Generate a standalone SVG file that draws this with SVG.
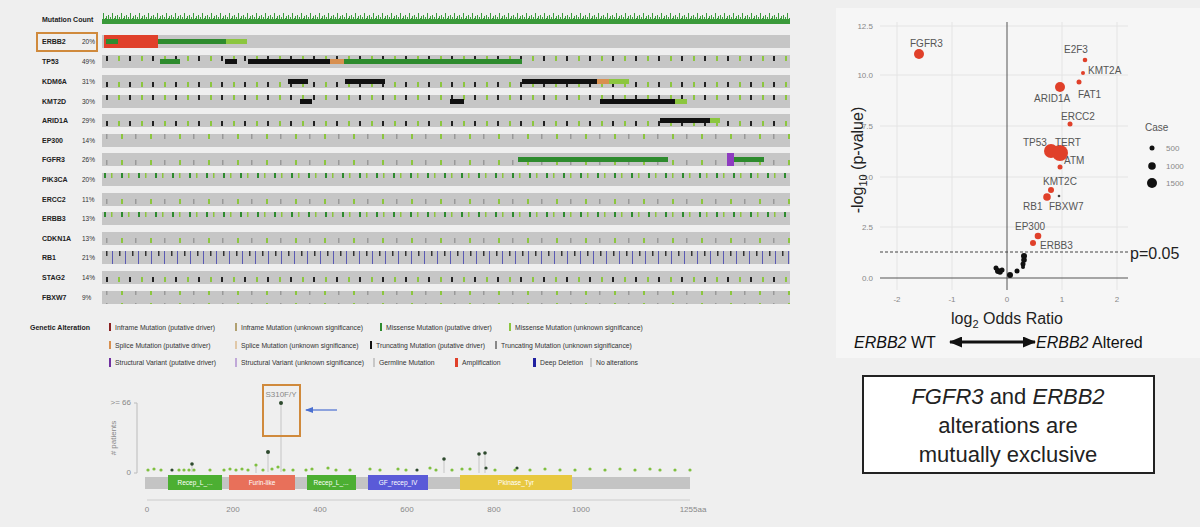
<svg xmlns="http://www.w3.org/2000/svg" width="1200" height="527" viewBox="0 0 1200 527">
<style>
.g{font-family:"Liberation Sans",Arial,sans-serif}
.gn{font-family:"Liberation Sans",Arial,sans-serif;font-size:7px;font-weight:bold;fill:#222}
.pc{font-family:"Liberation Sans",Arial,sans-serif;font-size:6.5px;fill:#333}
.lg{font-family:"Liberation Sans",Arial,sans-serif;font-size:6.8px;fill:#333}
.bar{fill:#c6c6c6}
.vt{font-family:"Liberation Sans",Arial,sans-serif;font-size:10px;fill:#555}
.tk{font-family:"Liberation Sans",Arial,sans-serif;font-size:8px;fill:#888}
.grid{stroke:#e4e4e4;stroke-width:1}
.red{fill:#e0402a}
</style>
<defs>
<pattern id="mc" width="9" height="12" patternUnits="userSpaceOnUse"><rect x="0" y="3" width="1" height="9" fill="#3a9a3a"/><rect x="2" y="5" width="1" height="7" fill="#3a9a3a"/><rect x="4" y="1" width="1" height="11" fill="#3a9a3a"/><rect x="6" y="6" width="1" height="6" fill="#3a9a3a"/><rect x="7" y="4" width="1" height="8" fill="#3a9a3a"/><rect x="0" y="7" width="9" height="5" fill="#3a9a3a"/></pattern>
<pattern id="t1" width="23" height="13" patternUnits="userSpaceOnUse"><rect x="3" y="4" width="2" height="5" fill="#8cc63f"/><rect x="14" y="4" width="2" height="5" fill="#222"/></pattern>
<pattern id="t2" width="17" height="13" patternUnits="userSpaceOnUse"><rect x="2" y="4" width="2" height="5" fill="#2e8b2e"/><rect x="9" y="4" width="1.5" height="5" fill="#8cc63f"/></pattern>
<pattern id="t3" width="29" height="13" patternUnits="userSpaceOnUse"><rect x="5" y="4" width="2" height="5" fill="#8cc63f"/><rect x="19" y="4" width="1.5" height="5" fill="#999"/></pattern>
<pattern id="t4" width="13" height="13" patternUnits="userSpaceOnUse"><rect x="2" y="4" width="1.5" height="5" fill="#333"/><rect x="8" y="0" width="1" height="13" fill="#5a5ab4"/></pattern>
<marker id="ah" markerWidth="13" markerHeight="11" refX="12" refY="5.5" orient="auto-start-reverse" markerUnits="userSpaceOnUse"><path d="M0,0 L13,5.5 L0,11 Z" fill="#111"/></marker>
<marker id="bh" markerWidth="8" markerHeight="6" refX="7" refY="3" orient="auto" markerUnits="userSpaceOnUse"><path d="M0,0 L8,3 L0,6 Z" fill="#4a6fd0"/></marker>
</defs>
<rect width="1200" height="527" fill="#efefef"/>
<rect x="836" y="8" width="364" height="350" fill="#f6f6f6"/>

<g id="oncoprint">
<text x="42" y="22" class="gn">Mutation Count</text>
<rect x="102" y="12" width="688" height="12" fill="url(#mc)"/>
<rect x="37" y="33" width="60" height="18" fill="none" stroke="#d08a3c" stroke-width="2"/>
<g id="rows">
<text x="42" y="44" class="gn">ERBB2</text><text x="82" y="44" class="pc">20%</text>
<rect x="102" y="35" width="688" height="13" class="bar"/>
<rect x="158" y="39" width="68" height="5" fill="#2e8b2e"/><rect x="226" y="39" width="21" height="5" fill="#8cc63f"/>
<rect x="104" y="35" width="54" height="13" fill="#e0402a"/><rect x="106" y="39" width="12" height="5" fill="#2e8b2e"/>
<text x="42" y="64" class="gn">TP53</text><text x="82" y="64" class="pc">49%</text>
<rect x="102" y="55" width="688" height="13" class="bar"/><rect x="102" y="55" width="688" height="13" fill="url(#t1)"/>
<rect x="248" y="59" width="82" height="5" fill="#111"/><rect x="330" y="59" width="14" height="5" fill="#d89050"/><rect x="344" y="59" width="178" height="5" fill="#2e8b2e"/><rect x="160" y="59" width="20" height="5" fill="#2e8b2e"/><rect x="225" y="59" width="12" height="5" fill="#111"/>
<text x="42" y="84" class="gn">KDM6A</text><text x="82" y="84" class="pc">31%</text>
<rect x="102" y="75" width="688" height="13" class="bar"/><rect x="102" y="75" width="688" height="13" fill="url(#t1)"/>
<rect x="522" y="79" width="75" height="5" fill="#111"/><rect x="597" y="79" width="12" height="5" fill="#d89050"/><rect x="609" y="79" width="20" height="5" fill="#8cc63f"/><rect x="345" y="79" width="40" height="5" fill="#111"/><rect x="288" y="79" width="20" height="5" fill="#111"/>
<text x="42" y="104" class="gn">KMT2D</text><text x="82" y="104" class="pc">30%</text>
<rect x="102" y="95" width="688" height="13" class="bar"/><rect x="102" y="95" width="688" height="13" fill="url(#t1)"/>
<rect x="600" y="99" width="75" height="5" fill="#111"/><rect x="675" y="99" width="12" height="5" fill="#8cc63f"/><rect x="300" y="99" width="12" height="5" fill="#111"/><rect x="450" y="99" width="14" height="5" fill="#111"/>
<text x="42" y="123" class="gn">ARID1A</text><text x="82" y="123" class="pc">29%</text>
<rect x="102" y="114" width="688" height="13" class="bar"/><rect x="102" y="114" width="688" height="13" fill="url(#t1)"/>
<rect x="660" y="118" width="50" height="5" fill="#111"/><rect x="710" y="118" width="10" height="5" fill="#8cc63f"/>
<text x="42" y="143" class="gn">EP300</text><text x="82" y="143" class="pc">14%</text>
<rect x="102" y="134" width="688" height="13" class="bar"/><rect x="102" y="134" width="688" height="13" fill="url(#t3)"/>
<text x="42" y="162" class="gn">FGFR3</text><text x="82" y="162" class="pc">26%</text>
<rect x="102" y="153" width="688" height="13" class="bar"/><rect x="102" y="153" width="688" height="13" fill="url(#t3)"/>
<rect x="518" y="157" width="150" height="5" fill="#2e8b2e"/><rect x="727" y="153" width="7" height="13" fill="#8e3cc0"/><rect x="734" y="157" width="30" height="5" fill="#2e8b2e"/>
<text x="42" y="182" class="gn">PIK3CA</text><text x="82" y="182" class="pc">20%</text>
<rect x="102" y="173" width="688" height="13" class="bar"/><rect x="102" y="173" width="688" height="13" fill="url(#t2)"/>
<text x="42" y="202" class="gn">ERCC2</text><text x="82" y="202" class="pc">11%</text>
<rect x="102" y="193" width="688" height="13" class="bar"/><rect x="102" y="193" width="688" height="13" fill="url(#t3)"/>
<text x="42" y="221" class="gn">ERBB3</text><text x="82" y="221" class="pc">13%</text>
<rect x="102" y="212" width="688" height="13" class="bar"/><rect x="102" y="212" width="688" height="13" fill="url(#t2)"/>
<text x="42" y="241" class="gn">CDKN1A</text><text x="82" y="241" class="pc">13%</text>
<rect x="102" y="232" width="688" height="13" class="bar"/><rect x="102" y="232" width="688" height="13" fill="url(#t3)"/>
<text x="42" y="260" class="gn">RB1</text><text x="82" y="260" class="pc">21%</text>
<rect x="102" y="251" width="688" height="13" class="bar"/><rect x="102" y="251" width="688" height="13" fill="url(#t4)"/>
<text x="42" y="280" class="gn">STAG2</text><text x="82" y="280" class="pc">14%</text>
<rect x="102" y="271" width="688" height="13" class="bar"/><rect x="102" y="271" width="688" height="13" fill="url(#t1)"/>
<text x="42" y="300" class="gn">FBXW7</text><text x="82" y="300" class="pc">9%</text>
<rect x="102" y="291" width="688" height="13" class="bar"/><rect x="102" y="291" width="688" height="13" fill="url(#t3)"/>
</g>
<g id="legend">
<text x="30" y="330" class="gn" font-size="6.5">Genetic Alteration</text>
<rect x="109" y="323" width="2" height="8" fill="#8b2020"/><text x="115" y="330" class="lg">Inframe Mutation (putative driver)</text>
<rect x="235" y="323" width="2" height="8" fill="#b0a070"/><text x="241" y="330" class="lg">Inframe Mutation (unknown significance)</text>
<rect x="380" y="323" width="2" height="8" fill="#2e8b2e"/><text x="386" y="330" class="lg">Missense Mutation (putative driver)</text>
<rect x="509" y="323" width="2" height="8" fill="#8cc63f"/><text x="515" y="330" class="lg">Missense Mutation (unknown significance)</text>
<rect x="109" y="341" width="2" height="8" fill="#d89050"/><text x="115" y="348" class="lg">Splice Mutation (putative driver)</text>
<rect x="235" y="341" width="2" height="8" fill="#e0c8a8"/><text x="241" y="348" class="lg">Splice Mutation (unknown significance)</text>
<rect x="370" y="341" width="2" height="8" fill="#111"/><text x="376" y="348" class="lg">Truncating Mutation (putative driver)</text>
<rect x="495" y="341" width="2" height="8" fill="#888"/><text x="501" y="348" class="lg">Truncating Mutation (unknown significance)</text>
<rect x="109" y="358" width="2" height="9" fill="#7030a0"/><text x="115" y="365" class="lg">Structural Variant (putative driver)</text>
<rect x="235" y="358" width="2" height="9" fill="#c0a8d8"/><text x="241" y="365" class="lg">Structural Variant (unknown significance)</text>
<rect x="373" y="358" width="2" height="9" fill="#c8c8c8"/><text x="379" y="365" class="lg">Germline Mutation</text>
<rect x="455" y="358" width="3" height="9" fill="#e0402a"/><text x="462" y="365" class="lg">Amplification</text>
<rect x="533" y="358" width="3" height="9" fill="#2020a0"/><text x="540" y="365" class="lg">Deep Deletion</text>
<rect x="590" y="358" width="2" height="9" fill="#c8c8c8"/><text x="596" y="365" class="lg">No alterations</text>
</g>
</g>

<g id="lollipop">
<line x1="137" y1="403" x2="137" y2="473" stroke="#bbb"/>
<line x1="134" y1="403" x2="137" y2="403" stroke="#bbb"/><line x1="134" y1="473" x2="137" y2="473" stroke="#bbb"/>
<text x="131" y="405" class="tk" font-size="5.5" text-anchor="end">&gt;= 66</text>
<text x="131" y="475" class="tk" font-size="5.5" text-anchor="end">0</text>
<text x="116" y="438" class="tk" font-size="6" transform="rotate(-90 116 438)" text-anchor="middle"># patients</text>
<g stroke="#aaa" stroke-width="0.6">
<line x1="281" y1="403" x2="281" y2="472"/><line x1="268" y1="452" x2="268" y2="472"/><line x1="192" y1="464" x2="192" y2="472"/><line x1="444" y1="473" x2="444" y2="459"/><line x1="479" y1="473" x2="479" y2="454"/><line x1="485" y1="473" x2="485" y2="453"/><line x1="256" y1="473" x2="256" y2="465"/>
</g>
<g fill="#2e4a2e"><circle cx="281" cy="403" r="2"/><circle cx="268" cy="452" r="2"/><circle cx="192" cy="464" r="1.8"/><circle cx="444" cy="459" r="1.8"/><circle cx="479" cy="454" r="1.8"/><circle cx="485" cy="453" r="1.8"/><circle cx="417" cy="470" r="1.6"/><circle cx="172" cy="470" r="1.6"/><circle cx="486" cy="468" r="1.6"/><circle cx="517" cy="468" r="1.6"/></g>
<g fill="#7fc040">
<circle cx="148" cy="470" r="1.6"/><circle cx="154" cy="469" r="1.6"/><circle cx="161" cy="470" r="1.6"/><circle cx="179" cy="470" r="1.6"/><circle cx="184" cy="470" r="1.6"/><circle cx="189" cy="470" r="1.6"/><circle cx="194" cy="470" r="1.6"/><circle cx="210" cy="470" r="1.6"/><circle cx="224" cy="470" r="1.6"/><circle cx="230" cy="469" r="1.6"/><circle cx="236" cy="470" r="1.6"/><circle cx="242" cy="469" r="1.6"/><circle cx="248" cy="470" r="1.6"/><circle cx="256" cy="465" r="1.6"/><circle cx="263" cy="470" r="1.6"/><circle cx="272" cy="469" r="1.6"/><circle cx="278" cy="467" r="1.6"/><circle cx="284" cy="470" r="1.6"/><circle cx="293" cy="470" r="1.6"/><circle cx="306" cy="470" r="1.6"/><circle cx="312" cy="469" r="1.6"/><circle cx="328" cy="468" r="1.6"/><circle cx="336" cy="470" r="1.6"/><circle cx="350" cy="470" r="1.6"/><circle cx="370" cy="469" r="1.6"/><circle cx="380" cy="470" r="1.6"/><circle cx="398" cy="469" r="1.6"/><circle cx="406" cy="470" r="1.6"/><circle cx="430" cy="468" r="1.6"/><circle cx="436" cy="470" r="1.6"/><circle cx="452" cy="470" r="1.6"/><circle cx="462" cy="469" r="1.6"/><circle cx="470" cy="469" r="1.6"/><circle cx="495" cy="470" r="1.6"/><circle cx="515" cy="470" r="1.6"/><circle cx="530" cy="470" r="1.6"/><circle cx="545" cy="469" r="1.6"/><circle cx="560" cy="470" r="1.6"/><circle cx="575" cy="470" r="1.6"/><circle cx="590" cy="469" r="1.6"/><circle cx="605" cy="470" r="1.6"/><circle cx="620" cy="469" r="1.6"/><circle cx="635" cy="470" r="1.6"/><circle cx="650" cy="469" r="1.6"/><circle cx="660" cy="470" r="1.6"/><circle cx="675" cy="470" r="1.6"/><circle cx="690" cy="470" r="1.6"/>
</g>
<rect x="145" y="477" width="545" height="12" fill="#c4c4c4"/>
<g class="g" font-size="6.5" fill="#fff" text-anchor="middle">
<rect x="168" y="475" width="54" height="15" fill="#4caf32"/><text x="195" y="485">Recep_L_...</text>
<rect x="229" y="475" width="66" height="15" fill="#e8705a"/><text x="262" y="485">Furin-like</text>
<rect x="307" y="475" width="49" height="15" fill="#4caf32"/><text x="331" y="485">Recep_L_...</text>
<rect x="368" y="475" width="60" height="15" fill="#5a5ad8"/><text x="398" y="485">GF_recep_IV</text>
<rect x="460" y="475" width="112" height="15" fill="#e8c840"/><text x="516" y="485">Pkinase_Tyr</text>
</g>
<line x1="147" y1="500" x2="690" y2="500" stroke="#ccc"/>
<g class="tk" font-size="5.5" text-anchor="middle"><text x="147" y="512">0</text><text x="233" y="512">200</text><text x="320" y="512">400</text><text x="407" y="512">600</text><text x="494" y="512">800</text><text x="581" y="512">1000</text><text x="693" y="512">1255aa</text></g>
<rect x="263" y="385" width="37" height="51" fill="none" stroke="#d08a3c" stroke-width="2"/>
<text x="281" y="397" class="tk" font-size="5.5" text-anchor="middle">S310F/Y</text>
<line x1="337" y1="410" x2="306" y2="410" stroke="#4a6fd0" stroke-width="1.2" marker-end="url(#bh)"/>
</g>

<g id="volcano">
<g class="grid">
<line x1="897" y1="22" x2="897" y2="290"/><line x1="952" y1="22" x2="952" y2="290"/><line x1="1062" y1="22" x2="1062" y2="290"/><line x1="1117" y1="22" x2="1117" y2="290"/>
<line x1="880" y1="26" x2="1128" y2="26"/><line x1="880" y1="75" x2="1128" y2="75"/><line x1="880" y1="126" x2="1128" y2="126"/><line x1="880" y1="177" x2="1128" y2="177"/><line x1="880" y1="227" x2="1128" y2="227"/>
</g>
<line x1="1007" y1="22" x2="1007" y2="290" stroke="#555"/>
<line x1="880" y1="278" x2="1128" y2="278" stroke="#555"/>
<line x1="880" y1="252" x2="1128" y2="252" stroke="#444" stroke-dasharray="3,2"/>
<text x="1130" y="259" class="g" font-size="16" fill="#222">p=0.05</text>
<g class="tk" text-anchor="end"><text x="873" y="29">12.5</text><text x="873" y="78">10.0</text><text x="873" y="129">7.5</text><text x="873" y="180">5.0</text><text x="873" y="230">2.5</text><text x="873" y="281">0.0</text></g>
<g class="tk" text-anchor="middle"><text x="897" y="302">-2</text><text x="952" y="302">-1</text><text x="1007" y="302">0</text><text x="1062" y="302">1</text><text x="1117" y="302">2</text></g>
<text x="863" y="160" class="g" font-size="16" fill="#222" text-anchor="middle" transform="rotate(-90 863 160)">-log<tspan font-size="11" dy="4">10</tspan><tspan dy="-4"> (p-value)</tspan></text>
<text x="1007" y="324" class="g" font-size="16" fill="#222" text-anchor="middle">log<tspan font-size="11" dy="4">2</tspan><tspan dy="-4"> Odds Ratio</tspan></text>
<g class="red">
<circle cx="919" cy="54" r="5"/><circle cx="1085" cy="60" r="2.3"/><circle cx="1083" cy="73" r="2"/><circle cx="1079" cy="82" r="2.5"/><circle cx="1060" cy="87" r="5"/><circle cx="1070" cy="124" r="2.5"/><circle cx="1051" cy="151" r="7"/><circle cx="1060" cy="153" r="8"/><circle cx="1060" cy="167" r="2.5"/><circle cx="1051" cy="190" r="3"/><circle cx="1047" cy="197" r="3.8"/><circle cx="1038" cy="236" r="3.3"/><circle cx="1033" cy="243" r="3"/>
</g>
<circle cx="1059" cy="196" r="1.3" fill="#444"/>
<g fill="#111"><circle cx="996" cy="268" r="2.5"/><circle cx="998" cy="271" r="3"/><circle cx="1000" cy="272" r="2.8"/><circle cx="1002" cy="270" r="2.5"/><circle cx="1010" cy="275" r="3"/><circle cx="1017" cy="271" r="2.5"/><circle cx="1023" cy="264" r="2.5"/><circle cx="1024" cy="260" r="2.8"/><circle cx="1024" cy="256" r="3"/><circle cx="1023" cy="267" r="2"/></g>
<g class="vt">
<text x="910" y="47">FGFR3</text><text x="1064" y="53">E2F3</text><text x="1088" y="74">KMT2A</text><text x="1078" y="98">FAT1</text><text x="1034" y="102">ARID1A</text><text x="1061" y="120">ERCC2</text><text x="1023" y="146">TP53</text><text x="1055" y="146">TERT</text><text x="1064" y="164">ATM</text><text x="1043" y="185">KMT2C</text><text x="1023" y="210">RB1</text><text x="1049" y="210">FBXW7</text><text x="1015" y="230">EP300</text><text x="1040" y="249">ERBB3</text>
<text x="1145" y="131">Case</text>
</g>
<g fill="#111"><circle cx="1152" cy="148" r="2.5"/><circle cx="1152" cy="166" r="3.8"/><circle cx="1152" cy="183" r="5"/></g>
<g class="tk" font-size="7.5" fill="#666"><text x="1166" y="151">500</text><text x="1166" y="169">1000</text><text x="1166" y="186">1500</text></g>
<text x="854" y="348" class="g" font-size="16" fill="#111"><tspan font-style="italic">ERBB2</tspan> WT</text>
<line x1="950" y1="342" x2="1035" y2="342" stroke="#111" stroke-width="3" marker-start="url(#ah)" marker-end="url(#ah)"/>
<text x="1036" y="348" class="g" font-size="16" fill="#111"><tspan font-style="italic">ERBB2</tspan> Altered</text>
</g>

<g id="note">
<rect x="863" y="376" width="291" height="97" fill="#fff" stroke="#222" stroke-width="2"/>
<g class="g" font-size="22" fill="#222" text-anchor="middle">
<text x="1008" y="404"><tspan font-style="italic">FGFR3</tspan> and <tspan font-style="italic">ERBB2</tspan></text>
<text x="1008" y="433">alterations are</text>
<text x="1008" y="462">mutually exclusive</text>
</g>
</g>
</svg>
